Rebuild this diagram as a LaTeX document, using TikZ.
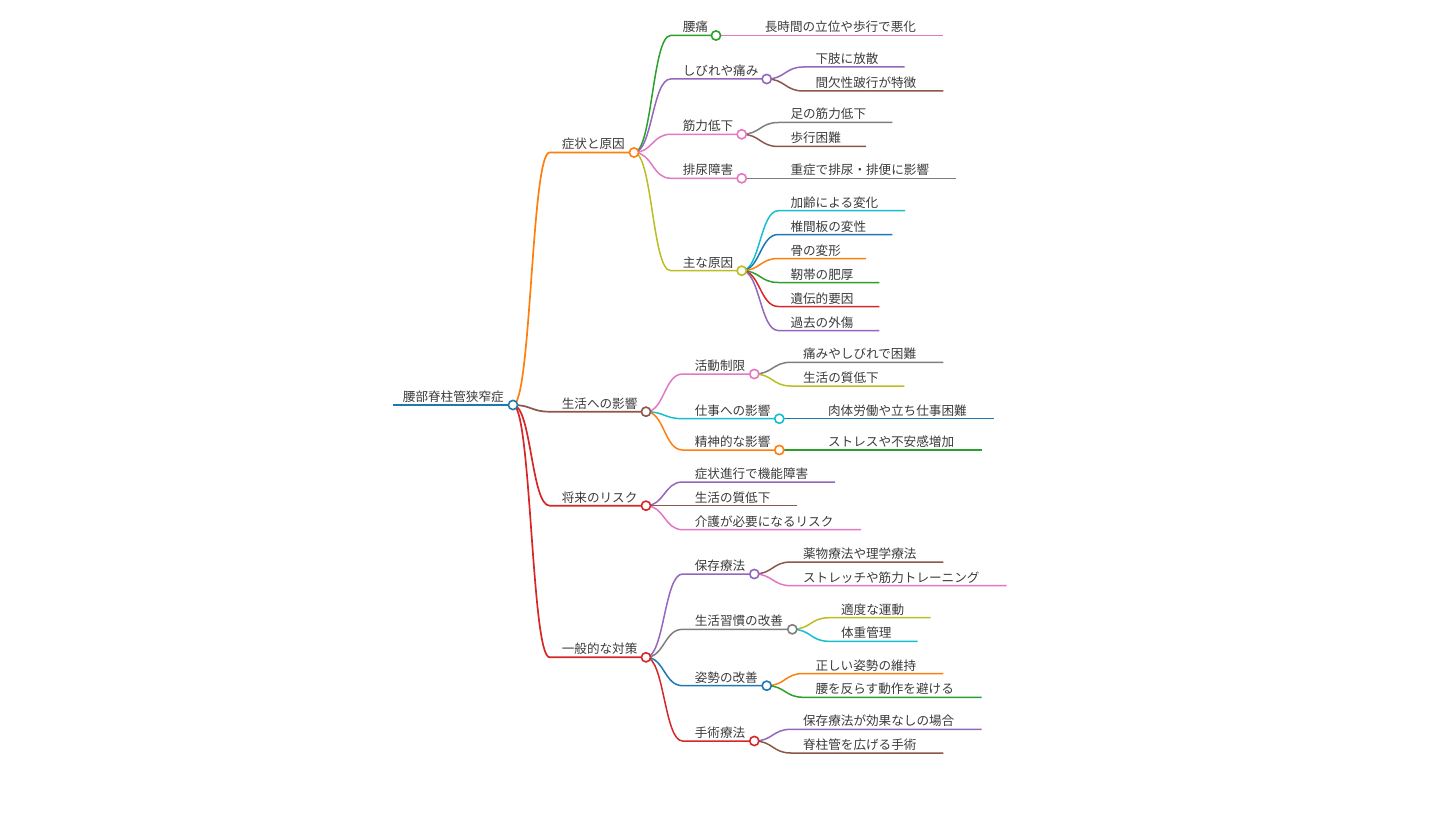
\documentclass[tikz,border=0pt]{standalone}
\usepackage{fontspec}
\newfontfamily\jpfont{Noto Sans CJK JP}
\usetikzlibrary{calc,backgrounds}
\definecolor{cblue}{HTML}{1F77B4}
\definecolor{corange}{HTML}{FF7F0E}
\definecolor{cgreen}{HTML}{2CA02C}
\definecolor{cred}{HTML}{D62728}
\definecolor{cpurple}{HTML}{9467BD}
\definecolor{cbrown}{HTML}{8C564B}
\definecolor{cpink}{HTML}{E377C2}
\definecolor{cgray}{HTML}{7F7F7F}
\definecolor{colive}{HTML}{BCBD22}
\definecolor{ccyan}{HTML}{17BECF}
\definecolor{ctext}{HTML}{3B3B3B}

\begin{document}
\begin{tikzpicture}
[x=1pt,y=-1pt,
lbl/.style={font=\jpfont\fontsize{12.6}{15}\selectfont,text=ctext,inner sep=0pt,anchor=base west},
knob/.style={circle,draw=#1,fill=white,line width=1.6pt,inner sep=0pt,minimum size=9.2pt},
link/.style={draw=#1,line width=1.5pt,to path={let \p1=(\tikztostart),\p2=(\tikztotarget) in .. controls ({(\x1+\x2)/2},\y1) and ({(\x1+\x2)/2},\y2) .. (\tikztotarget)}}]
\useasboundingbox (0,0) rectangle (1440,813);

% root
\node[lbl] (root) at (402.7,401.5) {腰部脊柱管狭窄症};
\coordinate (root-s) at (393,405);
\node[knob=cblue] (root-c) at (513,405) {};

% level 1
\node[lbl] (shojo) at (561.6,149) {症状と原因};
\coordinate (shojo-s) at (549.6,152.5);
\node[knob=corange] (shojo-c) at (634,152.5) {};
\node[lbl] (eikyo) at (561.6,408.2) {生活への影響};
\coordinate (eikyo-s) at (549.6,411.7);
\node[knob=cbrown] (eikyo-c) at (646,411.7) {};
\node[lbl] (risk) at (561.6,502.2) {将来のリスク};
\coordinate (risk-s) at (549.6,505.7);
\node[knob=cred] (risk-c) at (646,505.7) {};
\node[lbl] (taisaku) at (561.6,653.8) {一般的な対策};
\coordinate (taisaku-s) at (549.6,657.3);
\node[knob=cred] (taisaku-c) at (646,657.3) {};

% 症状と原因
\node[lbl] (youtsu) at (682.6,32) {腰痛};
\coordinate (youtsu-s) at (670.6,35.5);
\node[knob=cgreen] (youtsu-c) at (716,35.5) {};
\node[lbl] (shibire) at (682.6,75.5) {しびれや痛み};
\coordinate (shibire-s) at (670.6,79);
\node[knob=cpurple] (shibire-c) at (766.7,79) {};
\node[lbl] (kinryoku) at (682.6,130.8) {筋力低下};
\coordinate (kinryoku-s) at (670.6,134.3);
\node[knob=cpink] (kinryoku-c) at (741.7,134.3) {};
\node[lbl] (hainyo) at (682.6,174.8) {排尿障害};
\coordinate (hainyo-s) at (670.6,178.3);
\node[knob=cpink] (hainyo-c) at (741.7,178.3) {};
\node[lbl] (genin) at (682.6,267.2) {主な原因};
\coordinate (genin-s) at (670.6,270.7);
\node[knob=colive] (genin-c) at (741.7,270.7) {};

\node[lbl] (youtsu1) at (764.6,32) {長時間の立位や歩行で悪化};
\coordinate (youtsu1-s) at (752.6,35.5);
\coordinate (youtsu1-e) at (943.3,35.5);
\node[lbl] (shibire1) at (815.3,63.5) {下肢に放散};
\coordinate (shibire1-s) at (803.3,67);
\coordinate (shibire1-e) at (904.7,67);
\node[lbl] (shibire2) at (815.3,87.5) {間欠性跛行が特徴};
\coordinate (shibire2-s) at (803.3,91);
\coordinate (shibire2-e) at (943.3,91);
\node[lbl] (kinryoku1) at (790.3,119) {足の筋力低下};
\coordinate (kinryoku1-s) at (778.3,122.5);
\coordinate (kinryoku1-e) at (892.3,122.5);
\node[lbl] (kinryoku2) at (790.3,143) {歩行困難};
\coordinate (kinryoku2-s) at (778.3,146.5);
\coordinate (kinryoku2-e) at (866,146.5);
\node[lbl] (hainyo1) at (790.3,174.8) {重症で排尿・排便に影響};
\coordinate (hainyo1-s) at (778.3,178.3);
\coordinate (hainyo1-e) at (955.5,178.3);
\node[lbl] (genin1) at (790.3,207.2) {加齢による変化};
\coordinate (genin1-s) at (778.3,210.7);
\coordinate (genin1-e) at (905,210.7);
\node[lbl] (genin2) at (790.3,231) {椎間板の変性};
\coordinate (genin2-s) at (778.3,234.5);
\coordinate (genin2-e) at (892.3,234.5);
\node[lbl] (genin3) at (790.3,255) {骨の変形};
\coordinate (genin3-s) at (778.3,258.5);
\coordinate (genin3-e) at (866,258.5);
\node[lbl] (genin4) at (790.3,279) {靭帯の肥厚};
\coordinate (genin4-s) at (778.3,282.5);
\coordinate (genin4-e) at (879.3,282.5);
\node[lbl] (genin5) at (790.3,303) {遺伝的要因};
\coordinate (genin5-s) at (778.3,306.5);
\coordinate (genin5-e) at (879.3,306.5);
\node[lbl] (genin6) at (790.3,327) {過去の外傷};
\coordinate (genin6-s) at (778.3,330.5);
\coordinate (genin6-e) at (879.3,330.5);

% 生活への影響
\node[lbl] (katsudo) at (694.6,370.5) {活動制限};
\coordinate (katsudo-s) at (682.6,374);
\node[knob=cpink] (katsudo-c) at (754.3,374) {};
\node[lbl] (shigoto) at (694.6,415.2) {仕事への影響};
\coordinate (shigoto-s) at (682.6,418.7);
\node[knob=ccyan] (shigoto-c) at (779.3,418.7) {};
\node[lbl] (seishin) at (694.6,446.5) {精神的な影響};
\coordinate (seishin-s) at (682.6,450);
\node[knob=corange] (seishin-c) at (779.3,450) {};

\node[lbl] (katsudo1) at (802.9,358.8) {痛みやしびれで困難};
\coordinate (katsudo1-s) at (790.9,362.3);
\coordinate (katsudo1-e) at (943.3,362.3);
\node[lbl] (katsudo2) at (802.9,382.5) {生活の質低下};
\coordinate (katsudo2-s) at (790.9,386);
\coordinate (katsudo2-e) at (904.3,386);
\node[lbl] (shigoto1) at (827.9,415.2) {肉体労働や立ち仕事困難};
\coordinate (shigoto1-s) at (815.9,418.7);
\coordinate (shigoto1-e) at (994,418.7);
\node[lbl] (seishin1) at (827.9,446.5) {ストレスや不安感増加};
\coordinate (seishin1-s) at (815.9,450);
\coordinate (seishin1-e) at (981.7,450);

% 将来のリスク
\node[lbl] (risk1) at (694.6,478.5) {症状進行で機能障害};
\coordinate (risk1-s) at (682.6,482);
\coordinate (risk1-e) at (835,482);
\node[lbl] (risk2) at (694.6,502.2) {生活の質低下};
\coordinate (risk2-s) at (682.6,505.7);
\coordinate (risk2-e) at (796.7,505.7);
\node[lbl] (risk3) at (694.6,526.2) {介護が必要になるリスク};
\coordinate (risk3-s) at (682.6,529.7);
\coordinate (risk3-e) at (861,529.7);

% 一般的な対策
\node[lbl] (hozon) at (694.6,570.5) {保存療法};
\coordinate (hozon-s) at (682.6,574);
\node[knob=cpurple] (hozon-c) at (754.3,574) {};
\node[lbl] (shukan) at (694.6,625.8) {生活習慣の改善};
\coordinate (shukan-s) at (682.6,629.3);
\node[knob=cgray] (shukan-c) at (792.3,629.3) {};
\node[lbl] (shisei) at (694.6,682.2) {姿勢の改善};
\coordinate (shisei-s) at (682.6,685.7);
\node[knob=cblue] (shisei-c) at (766.7,685.7) {};
\node[lbl] (shujutsu) at (694.6,737.5) {手術療法};
\coordinate (shujutsu-s) at (682.6,741);
\node[knob=cred] (shujutsu-c) at (754.3,741) {};

\node[lbl] (hozon1) at (802.9,558.5) {薬物療法や理学療法};
\coordinate (hozon1-s) at (790.9,562);
\coordinate (hozon1-e) at (943.3,562);
\node[lbl] (hozon2) at (802.9,582.2) {ストレッチや筋力トレーニング};
\coordinate (hozon2-s) at (790.9,585.7);
\coordinate (hozon2-e) at (1006.7,585.7);
\node[lbl] (shukan1) at (840.9,614.2) {適度な運動};
\coordinate (shukan1-s) at (828.9,617.7);
\coordinate (shukan1-e) at (930.7,617.7);
\node[lbl] (shukan2) at (840.9,637.8) {体重管理};
\coordinate (shukan2-s) at (828.9,641.3);
\coordinate (shukan2-e) at (917.7,641.3);
\node[lbl] (shisei1) at (815.3,670) {正しい姿勢の維持};
\coordinate (shisei1-s) at (803.3,673.5);
\coordinate (shisei1-e) at (943.3,673.5);
\node[lbl] (shisei2) at (815.3,693.8) {腰を反らす動作を避ける};
\coordinate (shisei2-s) at (803.3,697.3);
\coordinate (shisei2-e) at (981.7,697.3);
\node[lbl] (shujutsu1) at (802.9,725.8) {保存療法が効果なしの場合};
\coordinate (shujutsu1-s) at (790.9,729.3);
\coordinate (shujutsu1-e) at (981.7,729.3);
\node[lbl] (shujutsu2) at (802.9,749.5) {脊柱管を広げる手術};
\coordinate (shujutsu2-s) at (790.9,753);
\coordinate (shujutsu2-e) at (943.3,753);

\begin{scope}[on background layer]
\draw[cblue,line width=2.2pt] (root-s) -- (root-c.center);

\draw[link=corange,line width=1.7pt] (root-c.center) to (shojo-s) -- (shojo-c.center);
\draw[link=cbrown,line width=1.7pt] (root-c.center) to (eikyo-s) -- (eikyo-c.center);
\draw[link=cred,line width=1.7pt] (root-c.center) to (risk-s) -- (risk-c.center);
\draw[link=cred,line width=1.7pt] (root-c.center) to (taisaku-s) -- (taisaku-c.center);

\draw[link=cgreen] (shojo-c.center) to (youtsu-s) -- (youtsu-c.center);
\draw[link=cpurple] (shojo-c.center) to (shibire-s) -- (shibire-c.center);
\draw[link=cpink] (shojo-c.center) to (kinryoku-s) -- (kinryoku-c.center);
\draw[link=cpink] (shojo-c.center) to (hainyo-s) -- (hainyo-c.center);
\draw[link=colive] (shojo-c.center) to (genin-s) -- (genin-c.center);

\draw[link=cpink] (youtsu-c.center) to (youtsu1-s) -- (youtsu1-e);
\draw[link=cpurple] (shibire-c.center) to (shibire1-s) -- (shibire1-e);
\draw[link=cbrown] (shibire-c.center) to (shibire2-s) -- (shibire2-e);
\draw[link=cgray] (kinryoku-c.center) to (kinryoku1-s) -- (kinryoku1-e);
\draw[link=cbrown] (kinryoku-c.center) to (kinryoku2-s) -- (kinryoku2-e);
\draw[link=cgray] (hainyo-c.center) to (hainyo1-s) -- (hainyo1-e);
\draw[link=ccyan] (genin-c.center) to (genin1-s) -- (genin1-e);
\draw[link=cblue] (genin-c.center) to (genin2-s) -- (genin2-e);
\draw[link=corange] (genin-c.center) to (genin3-s) -- (genin3-e);
\draw[link=cgreen] (genin-c.center) to (genin4-s) -- (genin4-e);
\draw[link=cred] (genin-c.center) to (genin5-s) -- (genin5-e);
\draw[link=cpurple] (genin-c.center) to (genin6-s) -- (genin6-e);

\draw[link=cpink] (eikyo-c.center) to (katsudo-s) -- (katsudo-c.center);
\draw[link=ccyan] (eikyo-c.center) to (shigoto-s) -- (shigoto-c.center);
\draw[link=corange] (eikyo-c.center) to (seishin-s) -- (seishin-c.center);
\draw[link=cgray] (katsudo-c.center) to (katsudo1-s) -- (katsudo1-e);
\draw[link=colive] (katsudo-c.center) to (katsudo2-s) -- (katsudo2-e);
\draw[link=cblue] (shigoto-c.center) to (shigoto1-s) -- (shigoto1-e);
\draw[link=cgreen] (seishin-c.center) to (seishin1-s) -- (seishin1-e);

\draw[link=cpurple] (risk-c.center) to (risk1-s) -- (risk1-e);
\draw[link=cbrown] (risk-c.center) to (risk2-s) -- (risk2-e);
\draw[link=cpink] (risk-c.center) to (risk3-s) -- (risk3-e);

\draw[link=cpurple] (taisaku-c.center) to (hozon-s) -- (hozon-c.center);
\draw[link=cgray] (taisaku-c.center) to (shukan-s) -- (shukan-c.center);
\draw[link=cblue] (taisaku-c.center) to (shisei-s) -- (shisei-c.center);
\draw[link=cred] (taisaku-c.center) to (shujutsu-s) -- (shujutsu-c.center);
\draw[link=cbrown] (hozon-c.center) to (hozon1-s) -- (hozon1-e);
\draw[link=cpink] (hozon-c.center) to (hozon2-s) -- (hozon2-e);
\draw[link=colive] (shukan-c.center) to (shukan1-s) -- (shukan1-e);
\draw[link=ccyan] (shukan-c.center) to (shukan2-s) -- (shukan2-e);
\draw[link=corange] (shisei-c.center) to (shisei1-s) -- (shisei1-e);
\draw[link=cgreen] (shisei-c.center) to (shisei2-s) -- (shisei2-e);
\draw[link=cpurple] (shujutsu-c.center) to (shujutsu1-s) -- (shujutsu1-e);
\draw[link=cbrown] (shujutsu-c.center) to (shujutsu2-s) -- (shujutsu2-e);
\end{scope}
\end{tikzpicture}
\end{document}
